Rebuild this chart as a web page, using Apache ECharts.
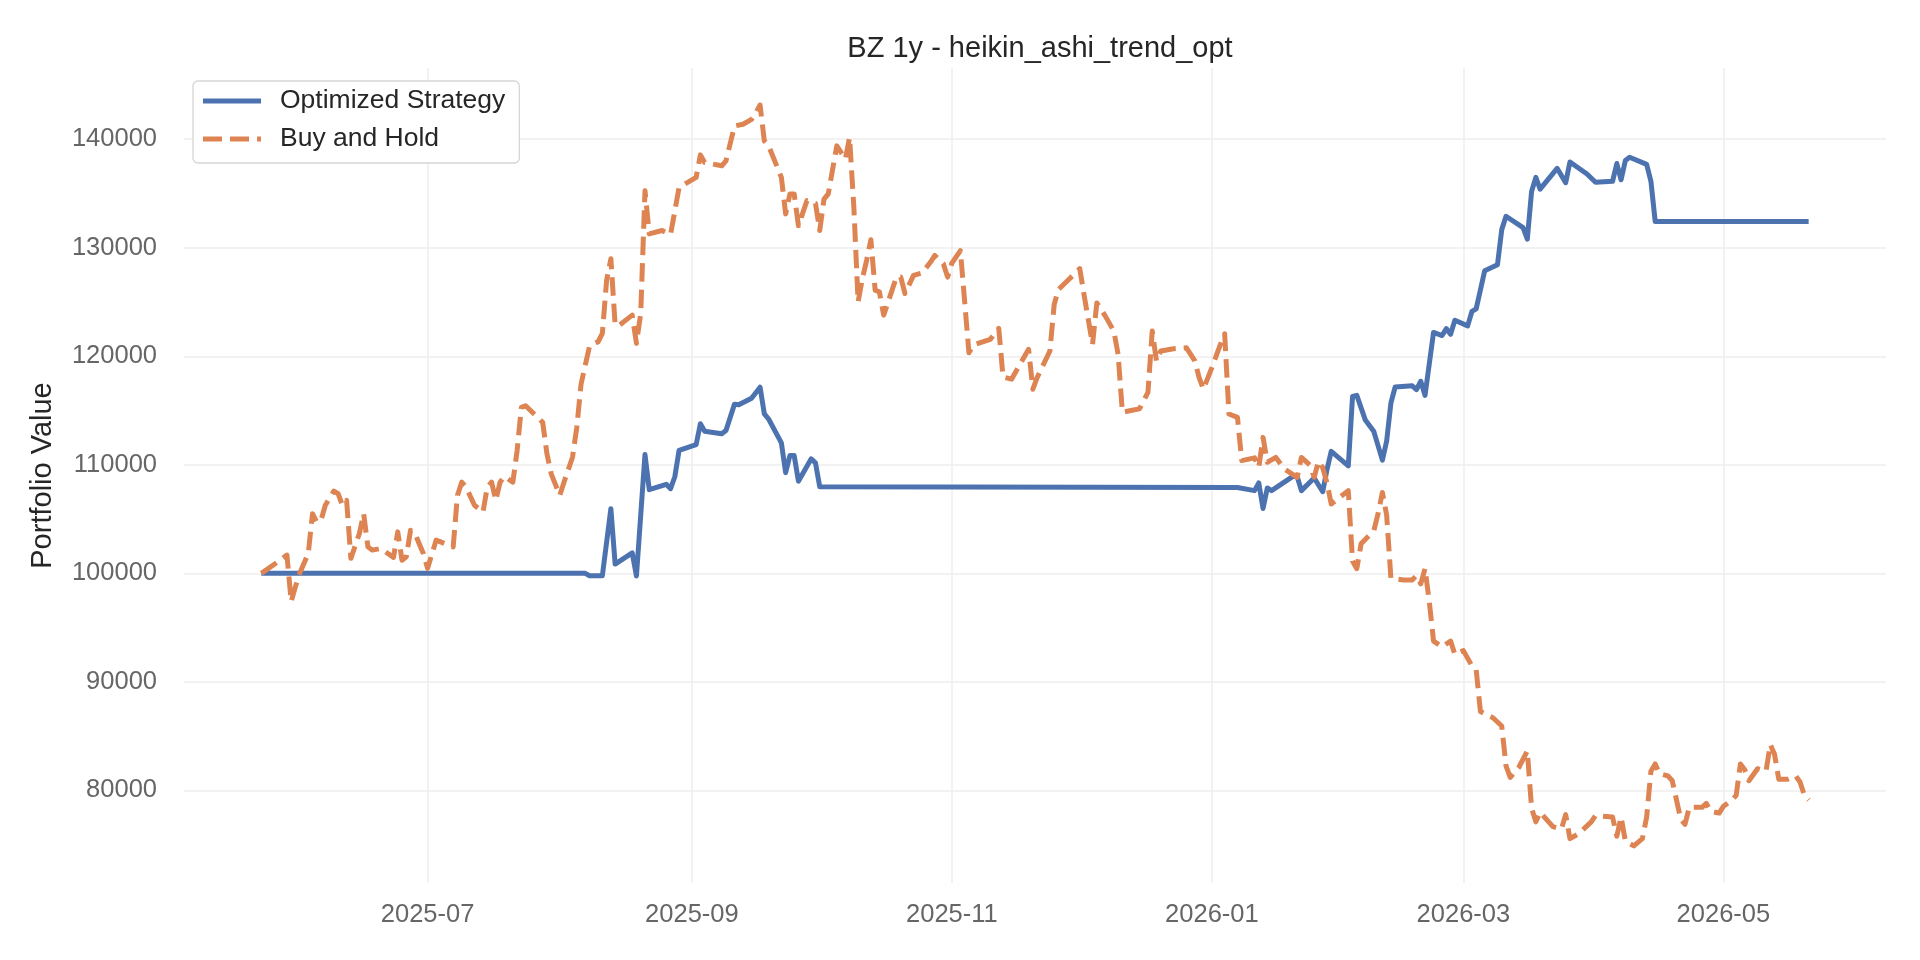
<!DOCTYPE html>
<html>
<head>
<meta charset="utf-8">
<title>BZ 1y - heikin_ashi_trend_opt</title>
<script src="https://cdn.jsdelivr.net/npm/echarts@6.0.0/dist/echarts.min.js"></script>
<style>
  html, body { margin: 0; padding: 0; background: #ffffff; }
  #chart { width: 1920px; height: 960px; }
</style>
</head>
<body>
<div id="chart"></div>
<script>
// portfolio values
const strategyDates = [
  "2025-05-23", "2025-08-07", "2025-08-08", "2025-08-11", "2025-08-13", "2025-08-14",
  "2025-08-18", "2025-08-19", "2025-08-21", "2025-08-22", "2025-08-26", "2025-08-27",
  "2025-08-28", "2025-08-29", "2025-09-02", "2025-09-03", "2025-09-04", "2025-09-08",
  "2025-09-09", "2025-09-11", "2025-09-12", "2025-09-15", "2025-09-17", "2025-09-18",
  "2025-09-19", "2025-09-22", "2025-09-23", "2025-09-24", "2025-09-25", "2025-09-26",
  "2025-09-29", "2025-09-30", "2025-10-01", "2026-01-07", "2026-01-11", "2026-01-12",
  "2026-01-13", "2026-01-14", "2026-01-15", "2026-01-20", "2026-01-21", "2026-01-22",
  "2026-01-25", "2026-01-27", "2026-01-28", "2026-01-29", "2026-02-02", "2026-02-03",
  "2026-02-04", "2026-02-06", "2026-02-08", "2026-02-10", "2026-02-11", "2026-02-12",
  "2026-02-13", "2026-02-17", "2026-02-18", "2026-02-19", "2026-02-20", "2026-02-22",
  "2026-02-24", "2026-02-25", "2026-02-26", "2026-02-27", "2026-03-02", "2026-03-03",
  "2026-03-04", "2026-03-06", "2026-03-09", "2026-03-10", "2026-03-11", "2026-03-15",
  "2026-03-16", "2026-03-17", "2026-03-18", "2026-03-19", "2026-03-23", "2026-03-25",
  "2026-03-26", "2026-03-30", "2026-04-01", "2026-04-05", "2026-04-06", "2026-04-07",
  "2026-04-08", "2026-04-09", "2026-04-13", "2026-04-14", "2026-04-15", "2026-05-21"
];
const strategyValues = [
  100000, 100000, 99780, 99780, 105960, 100850,
  101890, 99760, 110950, 107710, 108200, 107800,
  108900, 111340, 111860, 113790, 113090, 112870,
  113170, 115590, 115530, 116140, 117150, 114700,
  114220, 112020, 109270, 110860, 110860, 108490,
  110550, 110180, 107980, 107910, 107620, 108330,
  105970, 107870, 107620, 108930, 108930, 107620,
  108790, 107520, 109560, 111240, 109910, 116300,
  116400, 114120, 113060, 110430, 112190, 115700,
  117170, 117280, 116930, 117700, 116400, 122200,
  121910, 122550, 122020, 123320, 122800, 124130,
  124370, 127880, 128440, 131670, 132900, 131850,
  130790, 135180, 136480, 135400, 137320, 135990,
  137900, 136790, 136030, 136120, 137760, 136260,
  138040, 138340, 137680, 136120, 132430, 132430
];

const holdDates = [
  "2025-05-23", "2025-05-28", "2025-05-29", "2025-05-30", "2025-05-31", "2025-06-01",
  "2025-06-03", "2025-06-04", "2025-06-05", "2025-06-06", "2025-06-07", "2025-06-09",
  "2025-06-10", "2025-06-11", "2025-06-12", "2025-06-13", "2025-06-15", "2025-06-16",
  "2025-06-17", "2025-06-18", "2025-06-20", "2025-06-23", "2025-06-24", "2025-06-25",
  "2025-06-26", "2025-06-27", "2025-06-28", "2025-06-29", "2025-06-30", "2025-07-01",
  "2025-07-03", "2025-07-05", "2025-07-07", "2025-07-08", "2025-07-09", "2025-07-10",
  "2025-07-12", "2025-07-14", "2025-07-15", "2025-07-16", "2025-07-17", "2025-07-18",
  "2025-07-19", "2025-07-21", "2025-07-22", "2025-07-23", "2025-07-24", "2025-07-26",
  "2025-07-28", "2025-07-29", "2025-07-30", "2025-08-01", "2025-08-02", "2025-08-04",
  "2025-08-05", "2025-08-06", "2025-08-08", "2025-08-10", "2025-08-11", "2025-08-12",
  "2025-08-13", "2025-08-14", "2025-08-15", "2025-08-18", "2025-08-19", "2025-08-20",
  "2025-08-21", "2025-08-22", "2025-08-25", "2025-08-27", "2025-08-29", "2025-09-02",
  "2025-09-03", "2025-09-04", "2025-09-08", "2025-09-09", "2025-09-11", "2025-09-13",
  "2025-09-15", "2025-09-16", "2025-09-17", "2025-09-18", "2025-09-19", "2025-09-22",
  "2025-09-23", "2025-09-24", "2025-09-25", "2025-09-26", "2025-09-28", "2025-09-30",
  "2025-10-01", "2025-10-02", "2025-10-03", "2025-10-05", "2025-10-07", "2025-10-08",
  "2025-10-09", "2025-10-10", "2025-10-11", "2025-10-12", "2025-10-13", "2025-10-14",
  "2025-10-15", "2025-10-16", "2025-10-19", "2025-10-20", "2025-10-21", "2025-10-23",
  "2025-10-25", "2025-10-27", "2025-10-28", "2025-10-30", "2025-10-31", "2025-11-01",
  "2025-11-03", "2025-11-05", "2025-11-06", "2025-11-10", "2025-11-12", "2025-11-13",
  "2025-11-15", "2025-11-17", "2025-11-19", "2025-11-20", "2025-11-21", "2025-11-24",
  "2025-11-25", "2025-11-26", "2025-11-28", "2025-12-01", "2025-12-02", "2025-12-04",
  "2025-12-05", "2025-12-07", "2025-12-09", "2025-12-10", "2025-12-11", "2025-12-13",
  "2025-12-15", "2025-12-17", "2025-12-18", "2025-12-19", "2025-12-20", "2025-12-23",
  "2025-12-26", "2025-12-28", "2025-12-29", "2025-12-30", "2026-01-01", "2026-01-03",
  "2026-01-04", "2026-01-05", "2026-01-07", "2026-01-08", "2026-01-11", "2026-01-12",
  "2026-01-13", "2026-01-14", "2026-01-16", "2026-01-18", "2026-01-21", "2026-01-22",
  "2026-01-24", "2026-01-25", "2026-01-26", "2026-01-27", "2026-01-28", "2026-01-29",
  "2026-02-02", "2026-02-03", "2026-02-04", "2026-02-05", "2026-02-08", "2026-02-09",
  "2026-02-10", "2026-02-11", "2026-02-12", "2026-02-15", "2026-02-17", "2026-02-18",
  "2026-02-19", "2026-02-20", "2026-02-21", "2026-02-22", "2026-02-24", "2026-02-26",
  "2026-02-27", "2026-03-01", "2026-03-03", "2026-03-04", "2026-03-05", "2026-03-08",
  "2026-03-10", "2026-03-11", "2026-03-12", "2026-03-14", "2026-03-16", "2026-03-17",
  "2026-03-18", "2026-03-19", "2026-03-22", "2026-03-24", "2026-03-25", "2026-03-26",
  "2026-03-28", "2026-03-31", "2026-04-01", "2026-04-05", "2026-04-06", "2026-04-07",
  "2026-04-08", "2026-04-10", "2026-04-12", "2026-04-13", "2026-04-14", "2026-04-15",
  "2026-04-16", "2026-04-18", "2026-04-19", "2026-04-21", "2026-04-22", "2026-04-23",
  "2026-04-26", "2026-04-27", "2026-04-28", "2026-04-30", "2026-05-01", "2026-05-03",
  "2026-05-04", "2026-05-05", "2026-05-06", "2026-05-07", "2026-05-09", "2026-05-11",
  "2026-05-12", "2026-05-13", "2026-05-14", "2026-05-16", "2026-05-18", "2026-05-19",
  "2026-05-20", "2026-05-21"
];
const holdValues = [
  100000, 101380, 101680, 97400, 98780, 100000,
  101830, 105500, 104730, 104890, 106270, 107580,
  107340, 106270, 106720, 101380, 103670, 105500,
  102440, 102140, 102290, 101470, 103820, 101200,
  101520, 103970, 103720, 102750, 101830, 100460,
  103060, 102750, 102440, 107180, 108400, 107950,
  106270, 105650, 107950, 108400, 106720, 108400,
  108930, 108400, 111310, 115290, 115440, 114680,
  113910, 111010, 109170, 107180, 108400, 110700,
  113450, 117430, 120950, 121340, 122110, 127000,
  128990, 122870, 122870, 123790, 121190, 123940,
  135260, 131280, 131590, 131220, 135560, 136480,
  138560, 137860, 137550, 138010, 141220, 141380,
  141830, 142440, 143150, 139850, 139390, 136480,
  133120, 134960, 134960, 132040, 134340, 134090,
  131590, 134480, 134960, 139390, 138170, 140150,
  133730, 125010, 127160, 128840, 130740, 126090,
  125930, 123790, 127300, 127300, 125780, 127460,
  127670, 128680, 129290, 128530, 127300, 128590,
  129730, 120330, 121030, 121560, 122570, 118100,
  117890, 119270, 120640, 116970, 118040, 120490,
  124770, 126150, 126910, 128080, 125690, 121100,
  124920, 123700, 122320, 120180, 114840, 115000,
  115150, 116670, 122320, 119570, 120490, 120700,
  120790, 119570, 118040, 116970, 118950, 121100,
  122070, 114680, 114370, 110390, 110640, 109780,
  112530, 110240, 110680, 109620, 108850, 110680,
  109980, 108850, 110330, 109730, 108330, 106390,
  107620, 101130, 100430, 102720, 103940, 105520,
  107450, 105350, 99550, 99380, 99380, 99800,
  99030, 100430, 97400, 93760, 93230, 93760,
  92530, 92880, 91480, 91130, 87270, 86670,
  85930, 82260, 81190, 82110, 83640, 78360,
  77100, 77990, 76660, 76440, 77770, 75550,
  75990, 77100, 77680, 77550, 75770, 77550,
  75330, 74880, 75550, 77550, 81770, 82440,
  81550, 81330, 80890, 77330, 76880, 78440,
  78440, 78800, 78080, 77910, 78530, 79100,
  79550, 82440, 81910, 80890, 82000, 81770,
  84220, 83330, 81020, 81020, 81330, 80750,
  79550, 79100
];

const seriesNames = ["Optimized Strategy", "Buy and Hold"];
const chartTitle = "BZ 1y - heikin_ashi_trend_opt";
const yAxisTitle = "Portfolio Value";

const FONT = "'Liberation Sans', Arial, sans-serif";
const BLUE = "#4c72b0";
const ORANGE = "#dd8452";

// matplotlib style 5% padding around the data
const padMin = (v) => v.min - (v.max - v.min) * 0.05;
const padMax = (v) => v.max + (v.max - v.min) * 0.05;

const gridLine = {
  show: true,
  showMinLine: false,
  showMaxLine: false,
  lineStyle: { color: "#eeeeee", width: 1.5 }
};

// legend handles drawn as plain line samples (solid / dashed)
const solidHandle = "path://M0,0H58V5H0Z";
const dashedHandle = "path://M0,0H19V5H0Z M27,0H46V5H27Z M54,0H58V5H54Z";

function monthLabel(value) {
  const d = new Date(value);
  return d.getFullYear() + "-" + String(d.getMonth() + 1).padStart(2, "0");
}

const chart = echarts.init(document.getElementById("chart"));

chart.setOption({
  animation: false,
  backgroundColor: "#ffffff",
  textStyle: { fontFamily: FONT },
  title: {
    text: chartTitle,
    left: 1035,
    top: 29,
    textAlign: "center",
    textStyle: { fontFamily: FONT, fontSize: 29, fontWeight: "normal", color: "#262626" }
  },
  legend: {
    data: [
      { name: seriesNames[0], icon: solidHandle },
      { name: seriesNames[1], icon: dashedHandle }
    ],
    orient: "vertical",
    left: 193,
    top: 81,
    itemWidth: 58,
    itemHeight: 5,
    itemGap: 10,
    padding: [6, 14, 10, 10],
    borderColor: "#d6d6d6",
    borderWidth: 1.3,
    borderRadius: 5,
    backgroundColor: "#ffffff",
    itemStyle: { borderWidth: 0 },
    textStyle: { fontFamily: FONT, fontSize: 26.5, color: "#262626", lineHeight: 28, padding: [0, 0, 0, 14] }
  },
  grid: { left: 184, right: 34, top: 68, bottom: 77 },
  xAxis: {
    type: "time",
    min: padMin,
    max: padMax,
    splitNumber: 5,
    axisLine: { show: false },
    axisTick: { show: false },
    axisLabel: {
      fontFamily: FONT,
      fontSize: 25.5,
      color: "#666666",
      margin: 19,
      showMinLabel: false,
      showMaxLabel: false,
      formatter: monthLabel
    },
    splitLine: gridLine
  },
  yAxis: {
    type: "value",
    min: padMin,
    max: padMax,
    minInterval: 10000,
    maxInterval: 10000,
    name: yAxisTitle,
    nameLocation: "middle",
    nameGap: 127,
    nameTextStyle: { fontFamily: FONT, fontSize: 29, color: "#262626" },
    axisLine: { show: false },
    axisTick: { show: false },
    axisLabel: {
      fontFamily: FONT,
      fontSize: 25.5,
      color: "#666666",
      margin: 27,
      showMinLabel: false,
      showMaxLabel: false,
      formatter: (v) => String(v)
    },
    splitLine: gridLine
  },
  series: [
    {
      name: seriesNames[0],
      type: "line",
      symbol: "none",
      data: strategyDates.map((d, i) => [d, strategyValues[i]]),
      color: BLUE,
      lineStyle: { color: BLUE, width: 5, join: "round" },
      z: 2
    },
    {
      name: seriesNames[1],
      type: "line",
      symbol: "none",
      data: holdDates.map((d, i) => [d, holdValues[i]]),
      color: ORANGE,
      lineStyle: { color: ORANGE, width: 5, type: [18.5, 8], join: "round" },
      z: 3
    }
  ]
});
</script>
</body>
</html>
